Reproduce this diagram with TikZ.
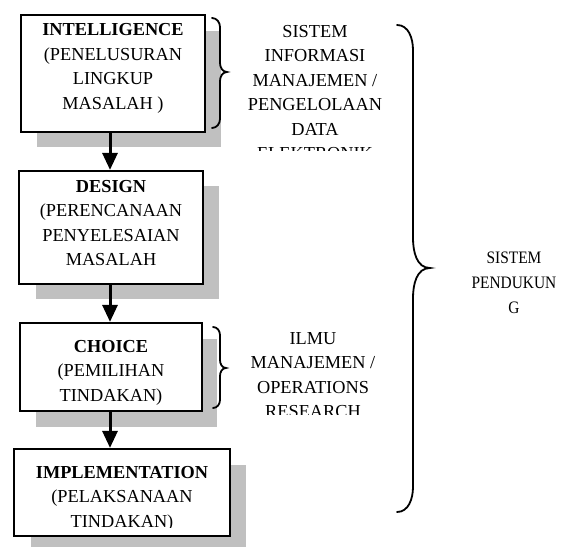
\documentclass[tikz,border=0pt]{standalone}
\usepackage{fontspec}
\usepackage{graphicx}
\setmainfont{Liberation Serif}
\usetikzlibrary{arrows.meta}
\definecolor{shadowgray}{RGB}{192,192,192}
\begin{document}
\begin{tikzpicture}[x=1pt,y=-1pt,
  stepbox/.style={draw=black, line width=2.2pt, fill=white, inner sep=0pt},
  shadowbox/.style={fill=shadowgray},
  txt/.style={inner sep=0pt, anchor=north, align=center,
    font=\fontsize{18.3}{24.5}\selectfont},
  flow/.style={line width=3pt, -{Triangle[width=15pt,length=17pt]}},
  brace/.style={line width=1.8pt, line cap=round}]
\useasboundingbox (0,0) rectangle (563,548);

% drop shadows behind the four stages
\fill[shadowbox] (37,31) rectangle (221,147);
\fill[shadowbox] (36,186) rectangle (219,299);
\fill[shadowbox] (36,339) rectangle (217,427);
\fill[shadowbox] (31,465) rectangle (246,547);

% stage boxes
\node[stepbox, minimum width=184pt, minimum height=117pt] (b1) at (113,73.5) {};
\node[stepbox, minimum width=184pt, minimum height=113pt] (b2) at (111,227.5) {};
\node[stepbox, minimum width=182pt, minimum height=88pt]  (b3) at (111,367) {};
\node[stepbox, minimum width=216pt, minimum height=87pt]  (b4) at (122,492.5) {};

% stage texts
\node[txt] (t1) at (113,23.6) {\textbf{INTELLIGENCE}\\(PENELUSURAN\\LINGKUP\\MASALAH )};
\node[txt] (t2) at (111,180) {\textbf{DESIGN}\\(PERENCANAAN\\PENYELESAIAN\\MASALAH};
\node[txt] (t3) at (111,340) {\textbf{CHOICE}\\(PEMILIHAN\\TINDAKAN)};
\begin{scope}
  \clip (16,450) rectangle (228,527.5);
  \node[txt] (t4) at (122,466) {\textbf{IMPLEMENTATION}\\(PELAKSANAAN\\TINDAKAN)};
\end{scope}

% flow arrows between the stages
\coordinate (ax) at (110,0);
\draw[flow] (b1.south -| ax) -- (b2.north -| ax);
\draw[flow] (b2.south -| ax) -- (b3.north -| ax);
\draw[flow] (b3.south -| ax) -- (b4.north -| ax);

% side labels
\begin{scope}
  \clip (235,0) rectangle (400,151);
  \node[txt] (sim) at (315,25) {SISTEM\\INFORMASI\\MANAJEMEN /\\PENGELOLAAN\\DATA\\ELEKTRONIK};
\end{scope}
\begin{scope}
  \clip (235,300) rectangle (400,415);
  \node[txt] (ilmu) at (313,332) {ILMU\\MANAJEMEN /\\OPERATIONS\\RESEARCH};
\end{scope}
\node[txt, font=\fontsize{17.5}{25}\selectfont] (dss) at (514,252)
  {\scalebox{0.88}[1]{SISTEM}\\\scalebox{0.88}[1]{PENDUKUN}\\\scalebox{0.88}[1]{G}};

% braces
\draw[brace] (212,18) to[out=0,in=90] (220,27) -- (220,63)
  to[out=-90,in=180] (227,72) to[out=180,in=90] (220,81) -- (220,119)
  to[out=-90,in=0] (212,128);
\draw[brace] (213,327) to[out=0,in=90] (220,335) -- (220,360)
  to[out=-90,in=180] (226,368) to[out=180,in=90] (220,376) -- (220,400)
  to[out=-90,in=0] (213,408);
\draw[brace] (397,25) to[out=0,in=90] (413,50) -- (413,238)
  to[out=-90,in=180] (430,268) to[out=180,in=90] (413,298) -- (413,487)
  to[out=-90,in=0] (397,512);
\end{tikzpicture}
\end{document}
